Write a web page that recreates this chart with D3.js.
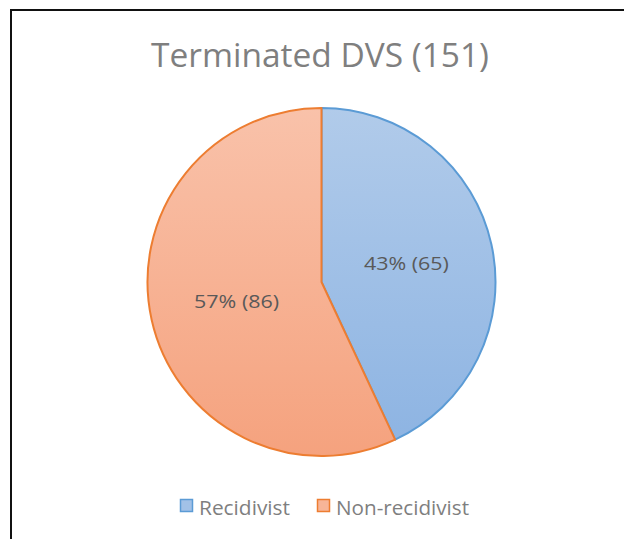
<!DOCTYPE html>
<html><head><meta charset="utf-8">
<script src="https://cdn.jsdelivr.net/npm/d3@7"></script>
<style>body{margin:0;background:#fff;} svg{display:block;}</style>
</head><body>
<svg id="c" width="624" height="539"></svg>
<script>
const categories = ["Recidivist", "Non-recidivist"];
const values = [65, 86];
const title = "Terminated DVS (151)";

const W = 624, H = 539;
const svg = d3.select("#c");
const font = "'Open Sans', 'Liberation Sans', sans-serif";
const cx = 321.5, cy = 282, R = 174;

// frame (top and left edges visible)
svg.append("path").attr("d", `M11,${H} L11,10 L${W},10`).attr("fill","none").attr("stroke","#111").attr("stroke-width",2);

svg.append("text").attr("x", 320).attr("y", 67).attr("text-anchor","middle")
  .attr("font-family", font).attr("font-size", 32).attr("fill","#7f7f7f")
  .attr("textLength", 338).attr("lengthAdjust","spacingAndGlyphs").text(title);

const defs = svg.append("defs");
const grads = [["#b1cbea","#8cb3e2"],["#f9c2aa","#f5a27e"]];
grads.forEach((g,i)=>{
  const lg = defs.append("linearGradient").attr("id","g"+i)
    .attr("gradientUnits","userSpaceOnUse").attr("x1",0).attr("y1",-R).attr("x2",0).attr("y2",R);
  lg.append("stop").attr("offset","0%").attr("stop-color",g[0]);
  lg.append("stop").attr("offset","100%").attr("stop-color",g[1]);
});
const strokes = ["#5b9bd5","#ed7d31"];

const pie = d3.pie().sort(null).value(d=>d)(values);
const arc = d3.arc().innerRadius(0).outerRadius(R);
const g = svg.append("g").attr("transform",`translate(${cx},${cy})`);
g.selectAll("path").data(pie).join("path").attr("d",arc)
  .attr("fill",(d,i)=>`url(#g${i})`).attr("stroke",(d,i)=>strokes[i]).attr("stroke-width",2).attr("stroke-linejoin","round");

const total = d3.sum(values);
g.selectAll("text").data(pie).join("text")
  .attr("transform", d=>`translate(${arc.centroid(d)})`)
  .attr("text-anchor","middle").attr("dy","0.35em")
  .attr("font-family", font).attr("font-size", 19).attr("fill","#595959")
  .attr("textLength", 85).attr("lengthAdjust","spacingAndGlyphs")
  .text(d=>`${Math.round(d.data/total*100)}% (${d.data})`);

// legend
const legX = [180, 317];
const legW = [91, 133];
const leg = svg.append("g");
categories.forEach((c,i)=>{
  leg.append("rect").attr("x",legX[i]+0.5).attr("y",499.5).attr("width",12).attr("height",12)
    .attr("fill", d3.interpolateRgb(grads[i][0], grads[i][1])(0.4)).attr("stroke",strokes[i]).attr("stroke-width",1.5);
  leg.append("text").attr("x",legX[i]+19).attr("y",515).attr("font-family",font).attr("font-size",20)
    .attr("fill","#7f7f7f").attr("textLength", legW[i]).attr("lengthAdjust","spacingAndGlyphs").text(c);
});
</script>
</body></html>
